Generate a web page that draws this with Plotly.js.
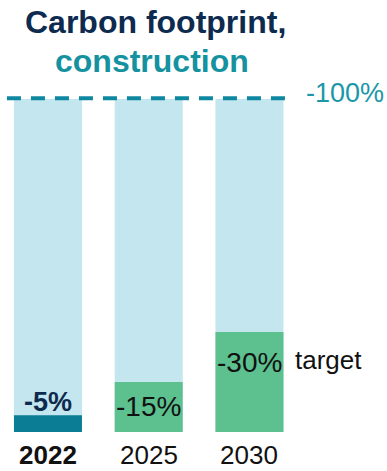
<!DOCTYPE html>
<html>
<head>
<meta charset="utf-8">
<script src="https://cdn.plot.ly/plotly-3.0.1.min.js"></script>
<style>html,body{margin:0;padding:0;background:#fff;}#chart{width:387px;height:471px;}</style>
</head>
<body>
<div id="chart"></div>
<script>
const years = ["2022", "2025", "2030"];
const reductions = [5, 15, 30];
const fullScale = [100, 100, 100];
const valueLabels = ["-5%", "-15%", "-30%"];
const targetLabel = "target";
const scaleLabel = "-100%";
const titleLine1 = "Carbon footprint,";
const titleLine2 = "construction";

const FONT = "Liberation Sans, Arial, sans-serif";
const xs = years.map((_, i) => i);
const barColors = ["#0b7d94", "#5cc08f", "#5cc08f"];
const labelColors = ["#0d2a4f", "#111111", "#111111"];
const labelWeights = [700, 400, 400];
const labelShift = [13, -24, -30];

const traces = [
  {type: "bar", x: xs, y: fullScale, width: 0.675, marker: {color: "#c4e6ee"}, hoverinfo: "skip"},
  {type: "bar", x: xs, y: reductions, width: 0.675, marker: {color: barColors}, hoverinfo: "skip"}
];

const annotations = [];
years.forEach((yr, i) => {
  annotations.push({x: i, y: 0, xref: "x", yref: "y", text: yr, showarrow: false, yanchor: "middle", yshift: -23,
    font: {family: FONT, size: 26, color: "#111", weight: i === 0 ? 700 : 400}});
  annotations.push({x: i, y: reductions[i], xref: "x", yref: "y", text: valueLabels[i], showarrow: false,
    yanchor: "middle", yshift: labelShift[i],
    font: {family: FONT, size: i === 0 ? 27 : 28, color: labelColors[i], weight: labelWeights[i]}});
});
annotations.push({x: 2, y: reductions[2], xref: "x", yref: "y", text: targetLabel, showarrow: false,
  xanchor: "left", yanchor: "middle", xshift: 44, yshift: -28,
  font: {family: FONT, size: 26, color: "#111"}});
annotations.push({x: 2.4, y: 100, xref: "x", yref: "y", text: scaleLabel, showarrow: false,
  xanchor: "left", yanchor: "middle", xshift: 14, yshift: 6,
  font: {family: FONT, size: 27, color: "#1a97a8"}});
annotations.push({x: 155 / 387, y: 1 - 22 / 471, xref: "paper", yref: "paper", text: titleLine1, showarrow: false,
  xanchor: "center", yanchor: "middle",
  font: {family: FONT, size: 32, color: "#0d2a4f", weight: 700}});
annotations.push({x: 152 / 387, y: 1 - 61 / 471, xref: "paper", yref: "paper", text: titleLine2, showarrow: false,
  xanchor: "center", yanchor: "middle",
  font: {family: FONT, size: 32, color: "#1592a0", weight: 700}});

const layout = {
  width: 387, height: 471,
  margin: {l: 0, r: 0, t: 0, b: 0},
  paper_bgcolor: "#fff", plot_bgcolor: "#fff",
  showlegend: false,
  barmode: "overlay",
  xaxis: {range: [-0.476, 3.365], visible: false, fixedrange: true},
  yaxis: {range: [-11.7, 129.7], visible: false, fixedrange: true},
  shapes: [{type: "line", xref: "x", yref: "y", x0: -0.407, x1: 2.4, y0: 100.2, y1: 100.2,
    line: {color: "#0e88a0", width: 4, dash: "14px,10px"}}],
  annotations: annotations
};

Plotly.newPlot("chart", traces, layout, {displayModeBar: false, staticPlot: true});
</script>
</body>
</html>
